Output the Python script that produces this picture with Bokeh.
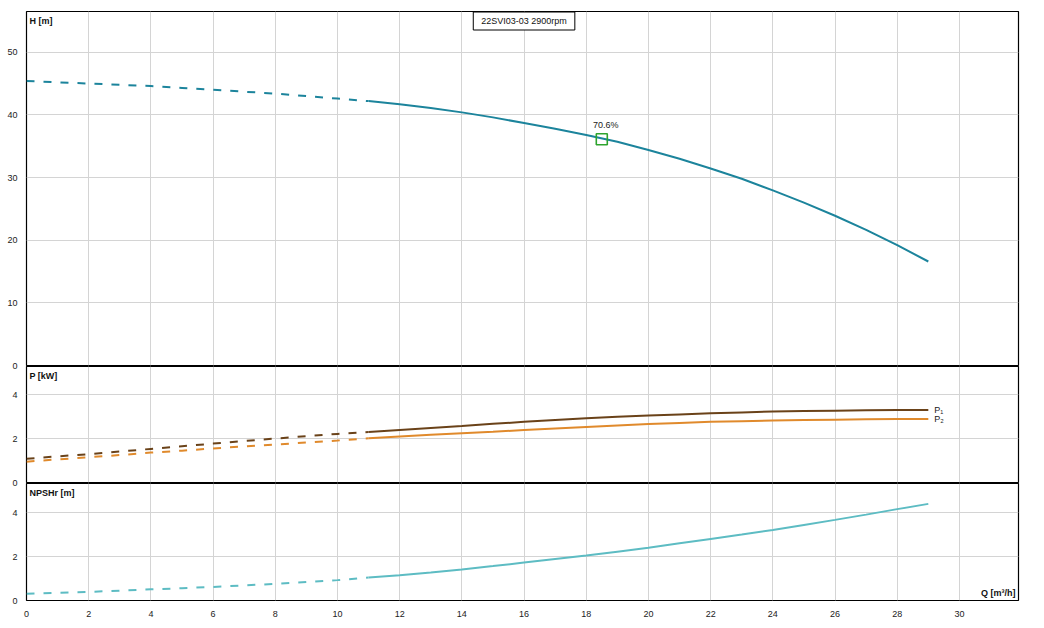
from bokeh.plotting import figure
from bokeh.layouts import column
from bokeh.models import Label, FixedTicker, Range1d
from bokeh.core.properties import value
from bokeh.embed import file_html
from bokeh.resources import INLINE

# ---- data ----
q = list(range(0, 30))
head = [45.4, 45.2, 45.0, 44.8, 44.6, 44.3, 44.0, 43.7, 43.4, 43.0,
        42.6, 42.2, 41.7, 41.1, 40.4, 39.6, 38.7, 37.8, 36.8, 35.7,
        34.4, 33.0, 31.45, 29.8, 27.95, 26.0, 23.9, 21.65, 19.2, 16.6]
p1 = [1.08, 1.19, 1.29, 1.41, 1.53, 1.65, 1.77, 1.89, 2.00, 2.11,
      2.21, 2.30, 2.39, 2.48, 2.57, 2.67, 2.76, 2.84, 2.92, 2.99,
      3.05, 3.10, 3.15, 3.19, 3.23, 3.25, 3.27, 3.29, 3.30, 3.30]
p2 = [0.95, 1.05, 1.15, 1.25, 1.36, 1.45, 1.55, 1.64, 1.73, 1.82,
      1.91, 2.01, 2.09, 2.17, 2.24, 2.31, 2.39, 2.46, 2.53, 2.60,
      2.66, 2.71, 2.76, 2.79, 2.82, 2.84, 2.86, 2.88, 2.89, 2.89]
npsh = [0.31, 0.35, 0.39, 0.45, 0.51, 0.56, 0.62, 0.69, 0.76, 0.84,
        0.93, 1.05, 1.15, 1.28, 1.42, 1.57, 1.73, 1.89, 2.05, 2.23,
        2.41, 2.61, 2.81, 3.01, 3.22, 3.45, 3.68, 3.92, 4.17, 4.41]
split_q = 11          # curves are dashed below this flow
bep_q, bep_h, bep_label = 18.5, 36.1, "70.6%"
title_text = "22SVI03-03 2900rpm"
x_ticks = list(range(0, 31, 2))
h_ticks = [0, 10, 20, 30, 40, 50]
p_ticks = [0, 2, 4]
n_ticks = [0, 2, 4]

FONT = "Liberation Sans"
FS = "9px"
GRID = "#d4d4d4"
C_H = "#1c849c"
C_P1 = "#6a4219"
C_P2 = "#e08a2c"
C_N = "#5dbcc3"
C_BEP = "#2ea42e"

XR = (0, 31.9)
FW = 992
BB = 6   # bottom border of the upper panels, so each "0" label is drawn whole
OV = 5   # overlap of the next panel (leaves a doubled separator line)


def make_fig(fh, yr, yt, top=0, bottom=BB, xaxis=False, overlap=False):
    f = figure(frame_width=FW, frame_height=fh, output_backend="svg",
               toolbar_location=None, x_range=Range1d(*XR), y_range=Range1d(*yr),
               min_border_left=26, min_border_right=26,
               min_border_top=top, min_border_bottom=bottom)
    if overlap:
        f.margin = (-OV, 0, 0, 0)
    f.outline_line_color = "black"
    f.outline_line_width = 1.2
    f.background_fill_color = "white"
    f.border_fill_alpha = 0
    for ax in f.yaxis:
        ax.ticker = FixedTicker(ticks=yt)
        ax.axis_line_color = None
        ax.major_tick_line_color = None
        ax.minor_tick_line_color = None
        ax.major_label_text_font = FONT
        ax.major_label_text_font_size = FS
        ax.major_label_text_color = "#222222"
        ax.major_label_standoff = 3
    for ax in f.xaxis:
        ax.ticker = FixedTicker(ticks=x_ticks)
        ax.axis_line_color = None
        ax.major_tick_line_color = None
        ax.minor_tick_line_color = None
        ax.major_label_text_font = FONT
        ax.major_label_text_font_size = FS
        ax.major_label_text_color = "#222222"
        ax.major_label_standoff = 4
        ax.visible = xaxis
    f.xgrid.ticker = FixedTicker(ticks=x_ticks)
    f.ygrid.ticker = FixedTicker(ticks=yt)
    f.grid.grid_line_color = GRID
    f.grid.grid_line_width = 1
    return f


def add_curve(f, ys, color, width=2):
    qa = [x for x in q if x <= split_q]
    ya = [y for x, y in zip(q, ys) if x <= split_q]
    qb = [x for x in q if x >= split_q]
    yb = [y for x, y in zip(q, ys) if x >= split_q]
    f.line(qa, ya, line_color=color, line_width=width, line_dash="8 9")
    f.line(qb, yb, line_color=color, line_width=width)


def corner_label(f, text, fh):
    f.add_layout(Label(x=3, y=fh - 4, x_units="screen", y_units="screen",
                       text=text, text_font=FONT, text_font_size=FS,
                       text_font_style="bold", text_baseline="top",
                       text_color="#111111"))


# ---- H panel ----
fh1 = 354
f1 = make_fig(fh1, (0, 56.5), h_ticks, top=11)
add_curve(f1, head, C_H)
f1.scatter([bep_q], [bep_h], marker="square", size=11, fill_color=None,
           line_color=C_BEP, line_width=1.6)
f1.add_layout(Label(x=bep_q, y=bep_h, x_offset=4, y_offset=9, text=bep_label,
                    text_font=FONT, text_font_size=FS, text_align="center",
                    text_baseline="bottom", text_color="#222222"))
f1.add_layout(Label(x=16, y=fh1 - 9.5, y_units="screen", text=title_text,
                    text_font=FONT, text_font_size=FS, text_align="center",
                    text_baseline="middle", text_color="#111111",
                    border_line_color="black", border_line_width=1,
                    background_fill_color="white",
                    padding=dict(left=8, right=8, top=4, bottom=4)))
corner_label(f1, "H [m]", fh1)

# ---- P panel ----
fh2 = 116
f2 = make_fig(fh2, (0, 5.28), p_ticks, overlap=True)
add_curve(f2, p1, C_P1)
add_curve(f2, p2, C_P2)
f2.text([q[-1]], [p1[-1]], text=["P₁"], x_offset=6, text_font=value(FONT),
        text_font_size=FS, text_baseline="middle", text_color="#222222")
f2.text([q[-1]], [p2[-1]], text=["P₂"], x_offset=6, text_font=value(FONT),
        text_font_size=FS, text_baseline="middle", text_color="#222222")
corner_label(f2, "P [kW]", fh2)

# ---- NPSH panel ----
fh3 = 117
f3 = make_fig(fh3, (0, 5.34), n_ticks, bottom=27, xaxis=True, overlap=True)
add_curve(f3, npsh, C_N)
corner_label(f3, "NPSHr [m]", fh3)
f3.add_layout(Label(x=FW - 3, y=3, x_units="screen", y_units="screen",
                    text="Q [m³/h]", text_font=FONT, text_font_size=FS,
                    text_font_style="bold", text_align="right",
                    text_baseline="bottom", text_color="#111111"))

layout = column(f1, f2, f3, spacing=0)
open("out.html", "w").write(file_html(layout, INLINE))
